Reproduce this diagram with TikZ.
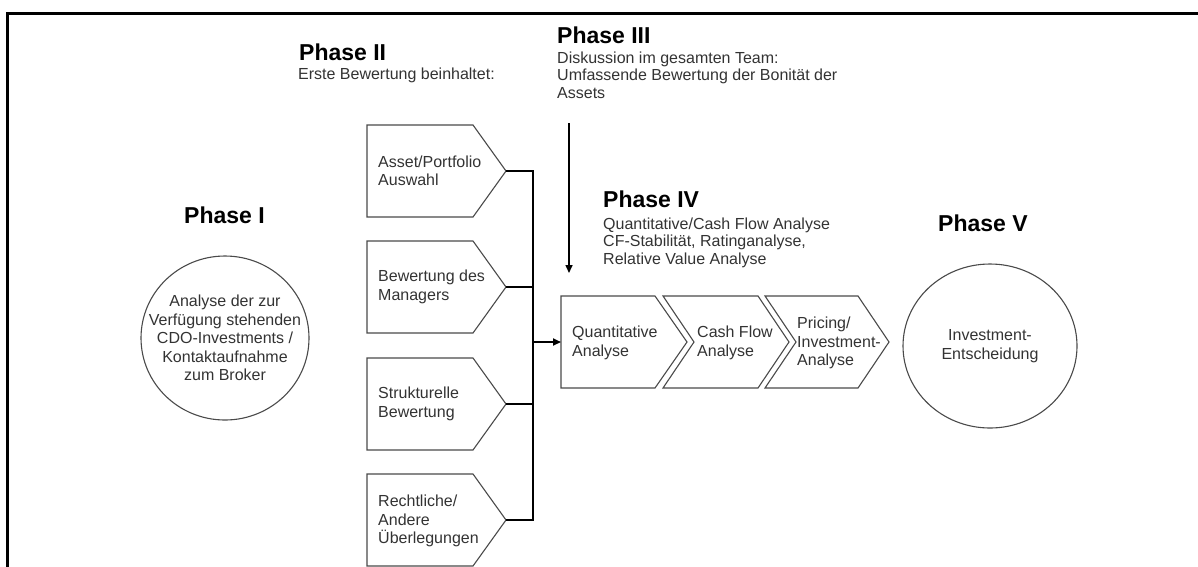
\documentclass[tikz,border=0pt]{standalone}
\usepackage{fontspec}
\setmainfont{Liberation Sans}
\usetikzlibrary{arrows.meta,shapes.geometric}
\definecolor{txt}{HTML}{333333}
\definecolor{edge}{HTML}{4A4A4A}
\begin{document}
\begin{tikzpicture}[x=1pt,y=-1pt,
  head/.style={font=\fontsize{23}{26}\selectfont\bfseries, inner sep=0pt, text=black, anchor=base west},
  body/.style={font=\fontsize{16}{18.5}\selectfont, inner sep=0pt, text=txt, align=left},
  shapeline/.style={draw=edge, line width=1.1pt, line join=miter},
  conn/.style={draw=black, line width=1.8pt},
  witharrow/.style={-{Triangle[length=8pt,width=7pt]}},
  ring/.style={draw=edge, line width=1.1pt, ellipse, inner sep=0pt}
]
\useasboundingbox (0,0) rectangle (1198,566);
\fill[white] (0,0) rectangle (1198,566);
% frame (top and left sides only visible)
\draw[line width=3pt] (7,570) -- (7,13.5) -- (1202,13.5);

% ---------- Phase I ----------
\node[head] (h1) at (184,223) {Phase I};
\node[ring, minimum width=168pt, minimum height=164pt] (c1) at (225,338) {};
\node[body, align=center] (c1t) at (c1.center) {Analyse der zur\\Verfügung stehenden\\CDO-Investments /\\Kontaktaufnahme\\zum Broker};

% ---------- Phase II ----------
\node[head] (h2) at (299,60) {Phase II};
\node[body, anchor=base west] (d2) at (298,79) {Erste Bewertung beinhaltet:};

\draw[shapeline] (367,125) -- (473,125) -- (506,171) -- (473,217) -- (367,217) -- cycle;
\draw[shapeline] (367,241) -- (473,241) -- (506,287) -- (473,333) -- (367,333) -- cycle;
\draw[shapeline] (367,358) -- (473,358) -- (506,404) -- (473,450) -- (367,450) -- cycle;
\draw[shapeline] (367,474) -- (473,474) -- (506,520) -- (473,566) -- (367,566) -- cycle;
\coordinate (t1) at (506,171);
\coordinate (t2) at (506,287);
\coordinate (t3) at (506,404);
\coordinate (t4) at (506,520);
\node[body, anchor=west] (b1) at (378,171) {Asset/Portfolio\\Auswahl};
\node[body, anchor=west] (b2) at (378,287) {Bewertung des\\Managers};
\node[body, anchor=west] (b3) at (378,404) {Strukturelle\\Bewertung};
\node[body, anchor=west] (b4) at (378,521) {Rechtliche/\\Andere\\Überlegungen};

% bus
\coordinate (bustop) at (533,171);
\coordinate (busbot) at (533,520);
\coordinate (busmid) at (533,342);
\draw[conn] (t1) -- (bustop) -- (busbot) -- (t4);
\draw[conn] (t2) -- (t2 -| bustop);
\draw[conn] (t3) -- (t3 -| bustop);

% ---------- Phase III ----------
\node[head] (h3) at (557,43) {Phase III};
\node[body, anchor=base west, font=\fontsize{16}{17.5}\selectfont] (d3) at (557,98) {Diskussion im gesamten Team:\\Umfassende Bewertung der Bonität der\\Assets};
\coordinate (p3a) at (569,123);
\coordinate (p3b) at (569,273);
\draw[conn, line width=1.5pt, witharrow] (p3a) -- (p3b);

% ---------- Phase IV ----------
\node[head] (h4) at (603,207) {Phase IV};
\node[body, anchor=base west, font=\fontsize{16}{17.5}\selectfont] (d4) at (603,264) {Quantitative/Cash Flow Analyse\\CF-Stabilität, Ratinganalyse,\\Relative Value Analyse};

\draw[shapeline] (561,296) -- (655,296) -- (687,342) -- (655,388) -- (561,388) -- cycle;
\draw[shapeline] (663,296) -- (758,296) -- (789,342) -- (758,388) -- (663,388) -- (694,342) -- cycle;
\draw[shapeline] (765,296) -- (858,296) -- (889,342) -- (858,388) -- (765,388) -- (796,342) -- cycle;
\coordinate (qin) at (561,342);
\node[body, anchor=west] (q1) at (572,343) {Quantitative\\Analyse};
\node[body, anchor=west] (q2) at (697,343) {Cash Flow\\Analyse};
\node[body, anchor=west] (q3) at (797,343) {Pricing/\\Investment-\\Analyse};
\draw[conn, witharrow] (busmid) -- (qin);

% ---------- Phase V ----------
\node[head] (h5) at (938,231) {Phase V};
\node[ring, minimum width=174pt, minimum height=164pt] (c5) at (990,346) {};
\node[body, align=center] (c5t) at (c5.center) {Investment-\\Entscheidung};
\end{tikzpicture}
\end{document}
